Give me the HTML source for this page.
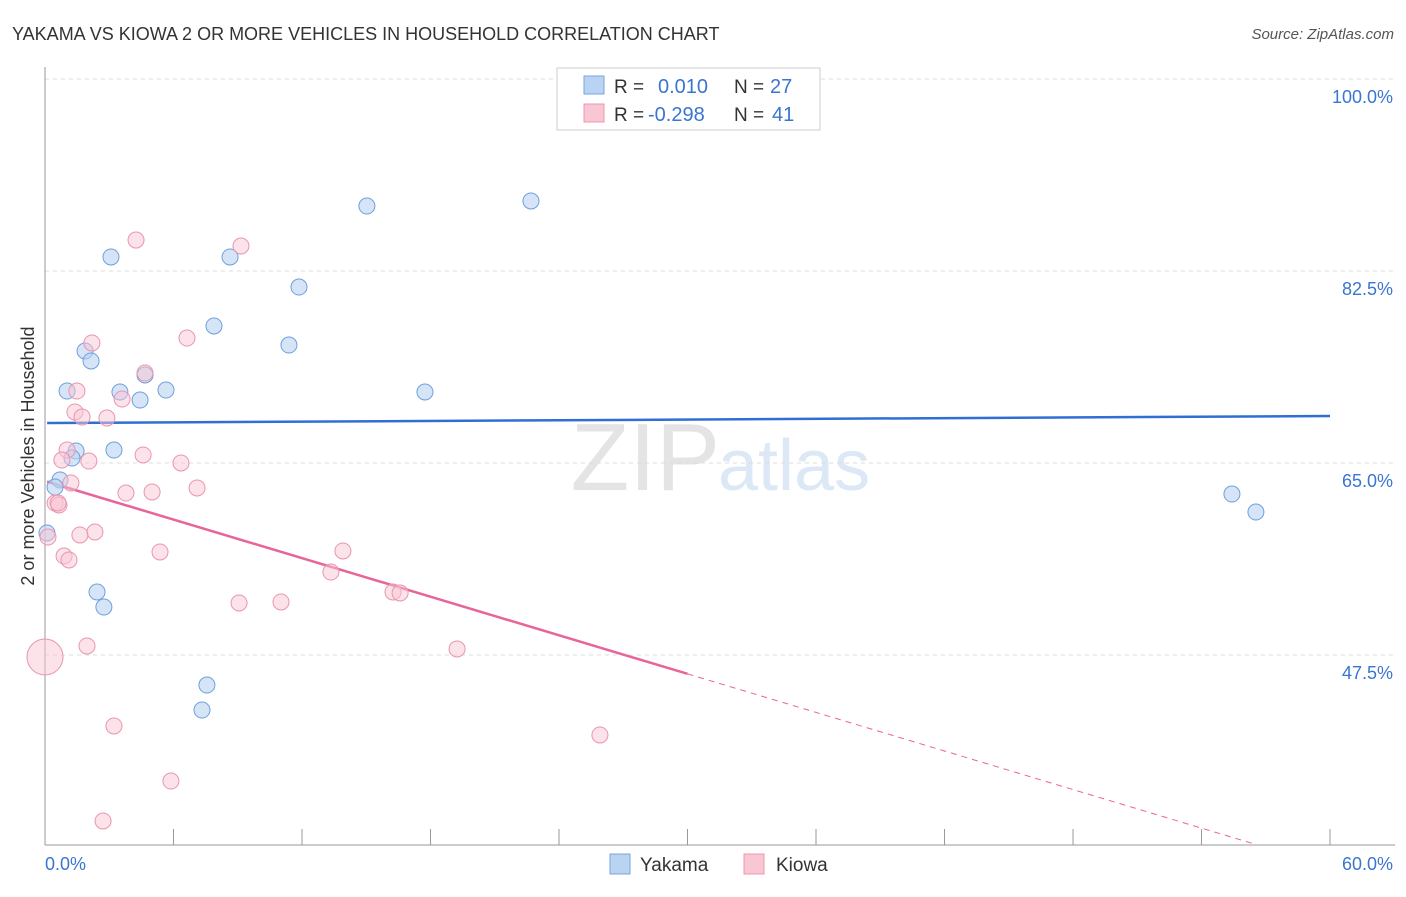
<!DOCTYPE html>
<html><head><meta charset="utf-8"><style>
body{margin:0;background:#fff;font-family:"Liberation Sans",sans-serif;}
svg text{font-family:"Liberation Sans",sans-serif;}
</style></head><body>
<svg id="chart" width="1406" height="892">
<text x="12" y="40" font-size="18" fill="#333">YAKAMA VS KIOWA 2 OR MORE VEHICLES IN HOUSEHOLD CORRELATION CHART</text>
<text x="1394" y="39" font-size="15" fill="#555" font-style="italic" text-anchor="end">Source: ZipAtlas.com</text>
<text x="720" y="490" font-size="96" fill="#e4e4e4" text-anchor="end" font-family="Liberation Serif">ZIP</text>
<text x="718" y="490" font-size="72" fill="#dce8f6">atlas</text>
<g id="grid"></g><g id="axes"></g><g id="lines"></g><g id="pts"></g>
<text transform="translate(34,456) rotate(-90)" font-size="18" fill="#333" text-anchor="middle">2 or more Vehicles in Household</text>
<g>
<rect x="557" y="68" width="263" height="62" fill="#fff" stroke="#ccc"/>
<rect x="584" y="76" width="20" height="18" fill="#b9d3f2" stroke="#7aa6e0"/>
<rect x="584" y="104" width="20" height="18" fill="#f9c6d4" stroke="#eb98b2"/>
<text x="614" y="93" font-size="19" fill="#333">R = </text><text x="658" y="93" font-size="20" fill="#3a75d0">0.010</text>
<text x="734" y="93" font-size="19" fill="#333">N = </text><text x="770" y="93" font-size="20" fill="#3a75d0">27</text>
<text x="614" y="121" font-size="19" fill="#333">R = </text><text x="648" y="121" font-size="20" fill="#3a75d0">-0.298</text>
<text x="734" y="121" font-size="19" fill="#333">N = </text><text x="772" y="121" font-size="20" fill="#3a75d0">41</text>
</g>
<g>
<rect x="610" y="854" width="20" height="20" fill="#b9d3f2" stroke="#7aa6e0"/>
<text x="640" y="871" font-size="19" fill="#333">Yakama</text>
<rect x="744" y="854" width="20" height="20" fill="#f9c6d4" stroke="#eb98b2"/>
<text x="776" y="871" font-size="19" fill="#333">Kiowa</text>
</g>
</svg>
<script>
const yTicks=[47.5,65.0,82.5,100.0];
const xTickLabels=["0.0%","60.0%"];
const yakX=[3.08,8.64,15.03,22.69,11.86,7.89,11.39,1.87,2.15,1.03,3.50,4.67,5.65,4.44,17.74,3.22,1.45,1.26,0.70,0.47,0.09,2.43,2.75,7.56,7.33,55.42,56.54];
const yakY=[83.78,83.78,88.42,88.88,81.04,77.49,75.75,75.21,74.30,71.56,71.47,73.02,71.65,70.74,71.47,66.18,66.09,65.45,63.45,62.81,58.62,53.24,51.87,44.76,42.48,62.17,60.53];
const kioX=[4.25,9.15,6.63,2.19,4.67,1.49,3.60,1.40,1.73,2.89,1.03,0.79,2.05,4.58,6.35,1.21,7.10,3.78,5.00,0.47,0.65,2.33,1.63,0.14,0.89,1.12,5.37,13.91,13.35,9.06,11.02,16.25,16.58,1.96,19.24,0.0,3.22,25.91,5.88,2.71,0.61];
const kioY=[85.32,84.78,76.39,75.94,73.20,71.56,70.83,69.65,69.19,69.10,66.18,65.27,65.18,65.73,65.00,63.18,62.72,62.26,62.36,61.35,61.17,58.71,58.44,58.25,56.52,56.16,56.89,56.98,55.06,52.24,52.33,53.24,53.15,48.32,48.05,47.32,41.03,40.21,36.01,32.37,61.35];
const kioR=[8,8,8,8,8,8,8,8,8,8,8,8,8,8,8,8,8,8,8,8,8,8,8,8,8,8,8,8,8,8,8,8,8,8,8,18,8,8,8,8,8];
const yakTrend=[68.64,69.28];
const kioTrend=[63.36,28.2];
const X=v=>45+v*21.417, Y=v=>79+(100-v)*10.971;
const NS="http://www.w3.org/2000/svg";
function mk(p,t,a){const e=document.createElementNS(NS,t);for(const k in a)e.setAttribute(k,a[k]);document.getElementById(p).appendChild(e);return e;}
yTicks.forEach(t=>{
 const l=mk('grid','line',{x1:45,x2:1395,y1:Y(t),y2:Y(t),stroke:'#ddd','stroke-dasharray':'4,4'});
 
 
 const tx=mk('grid','text',{x:1393,y:Y(t)+24,'font-size':18,fill:'#3a75d0','text-anchor':'end'});tx.textContent=t.toFixed(1)+'%';
 
 
});
const ax=mk('axes','line',{x1:45,x2:45,y1:67,y2:845,stroke:'#999'});


const bx=mk('axes','line',{x1:45,x2:1395,y1:845,y2:845,stroke:'#999'});


for(let i=0;i<=10;i++){const t=mk('axes','line',{x1:X(i*6),x2:X(i*6),y1:829,y2:845,stroke:'#999'});
 
 }
[[0,'start',45],[60,'end',1393]].forEach((d,i)=>{const t=mk('axes','text',{x:d[2],y:870,'font-size':18,fill:'#3a75d0','text-anchor':d[1]});t.textContent=xTickLabels[i];
 
 });
yakX.forEach((x,i)=>{const c=mk('pts','circle',{cx:X(x),cy:Y(yakY[i]),r:8,fill:'#b9d3f2','fill-opacity':0.6,stroke:'#6f9fdc','stroke-width':1});
 
 });
kioX.forEach((x,i)=>{const c=mk('pts','circle',{cx:X(x),cy:Y(kioY[i]),r:kioR[i],fill:'#f9c6d4','fill-opacity':0.5,stroke:'#e995b0','stroke-width':1});
 
 });
const yl=mk('lines','line',{x1:X(0.1),x2:X(60),y1:Y(yakTrend[0]),y2:Y(yakTrend[1]),stroke:'#2f6fd4','stroke-width':2.5});


const kv=x=>kioTrend[0]+(kioTrend[1]-kioTrend[0])*x/60;
const kl=mk('lines','line',{x1:X(0.1),x2:X(30),y1:Y(kv(0.1)),y2:Y(kv(30)),stroke:'#e8659a','stroke-width':2.5});


const kd=mk('lines','line',{x1:X(30),x2:X(56.5),y1:Y(kv(30)),y2:Y(kv(56.5)),stroke:'#e8659a','stroke-width':1,'stroke-dasharray':'6,5'});


</script>
</body></html>
